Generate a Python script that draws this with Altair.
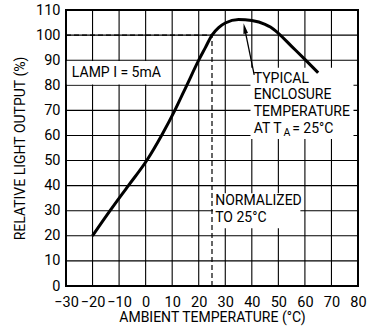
import altair as alt
import pandas as pd

# ---- data ----
curve_x = [-20, -13.4, -6.5, 0.4, 6, 11, 15.5, 20, 22.5, 25, 27.5, 30, 35, 40, 45, 47, 50, 55, 60, 65]
curve_y = [20, 30, 40, 50, 60, 70, 80, 90, 95, 100, 103, 104.8, 106.2, 105.8, 104.3, 103.2, 100.7, 95.5, 90.3, 85]

x_ticks = list(range(-30, 81, 10))
y_ticks = list(range(0, 111, 10))

# dashed reference lines (normalisation point 25 °C / 100 %)
ref_x = 25
ref_y = 100

# annotation text
lamp_text = ["LAMP I = 5mA"]
lamp_pos = [(-27.8, 84.9)]
typ_lines = ["TYPICAL", "ENCLOSURE", "TEMPERATURE"]
typ_x = [40.7, 40.7, 40.7]
typ_y = [82.4, 76.0, 69.3]
at_parts = ["AT T", "= 25°C"]
at_x = [40.7, 55.2]
at_y = [62.7, 62.7]
sub_text = ["A"]
sub_pos = [(51.9, 61.0)]
norm_lines = ["NORMALIZED", "TO 25°C"]
norm_x = [26.2, 26.2]
norm_y = [33.9, 27.0]

# white backgrounds behind annotations (x1, x2, y1, y2)
boxes = [(-29.7, 9.7, 80.3, 89.7), (39.5, 78.3, 58.6, 87.0), (25.35, 58.3, 23.0, 37.0)]

# arrow
arrow_line = [(40.9, 84.1), (37.3, 102.7)]
arrow_head = [(37.3, 102.7, 348.3)]

FONT = "Roboto"

xs = alt.Scale(domain=[-30, 80], nice=False, zero=False)
ys = alt.Scale(domain=[0, 110], nice=False, zero=False)

curve_df = pd.DataFrame({"x": curve_x, "y": curve_y})
box_df = pd.DataFrame(boxes, columns=["x1", "x2", "y1", "y2"])

x_axis = alt.Axis(values=x_ticks, title="AMBIENT TEMPERATURE (°C)",
                  labelPadding=9, titlePadding=2, labelFlush=False,
                  labelOverlap=False, grid=False)
y_axis = alt.Axis(values=y_ticks, title="RELATIVE LIGHT OUTPUT (%)",
                  labelPadding=6, titlePadding=8, labelOverlap=False, grid=False)

base_x = alt.X("x:Q", scale=xs, axis=x_axis)
base_y = alt.Y("y:Q", scale=ys, axis=y_axis)

# grid drawn as rules from the tick lists
gx = alt.Chart(pd.DataFrame({"x": x_ticks[1:-1]})).mark_rule(
    color="black", strokeWidth=1.1
).encode(x=base_x)
gy = alt.Chart(pd.DataFrame({"y": y_ticks[1:-1]})).mark_rule(
    color="black", strokeWidth=1.1
).encode(y=base_y)

curve = alt.Chart(curve_df).mark_line(
    color="black", strokeWidth=3, interpolate="monotone"
).encode(x=base_x, y=base_y)

box = alt.Chart(box_df).mark_rect(color="white", opacity=1).encode(
    x=alt.X("x1:Q", scale=xs, axis=x_axis), x2="x2:Q",
    y=alt.Y("y1:Q", scale=ys, axis=y_axis), y2="y2:Q")

dash_h = alt.Chart(pd.DataFrame({"x": [-30], "x2": [ref_x], "y": [ref_y]})).mark_rule(
    color="black", strokeWidth=1.2, strokeDash=[5, 3]
).encode(x=base_x, x2="x2:Q", y=base_y)

dash_v = alt.Chart(pd.DataFrame({"x": [ref_x], "y": [0], "y2": [ref_y]})).mark_rule(
    color="black", strokeWidth=1.2, strokeDash=[5, 3]
).encode(x=base_x, y=base_y, y2="y2:Q")

arrow_df = pd.DataFrame(arrow_line, columns=["x", "y"])
arrow = alt.Chart(arrow_df).mark_line(color="black", strokeWidth=1.3).encode(
    x=base_x, y=base_y)

head_df = pd.DataFrame(arrow_head, columns=["x", "y", "a"])
head = alt.Chart(head_df).mark_point(
    shape="M0,-1L0.45,1L-0.45,1Z", filled=True, color="black", opacity=1, size=110
).encode(x=base_x, y=base_y, angle=alt.Angle("a:Q", scale=None))

def text_layer(texts, xv, yv, size=14):
    df = pd.DataFrame({"t": texts, "x": xv, "y": yv})
    return alt.Chart(df).mark_text(
        align="left", baseline="middle", font=FONT, fontSize=size, color="black"
    ).encode(x=base_x, y=base_y, text="t:N")

t_lamp = text_layer(lamp_text, [p[0] for p in lamp_pos], [p[1] for p in lamp_pos])
t_typ = text_layer(typ_lines, typ_x, typ_y)
t_at = text_layer(at_parts, at_x, at_y)
t_sub = text_layer(sub_text, [p[0] for p in sub_pos], [p[1] for p in sub_pos], size=10.5)
t_norm = text_layer(norm_lines, norm_x, norm_y)

chart = alt.layer(
    gx, gy, box, dash_h, dash_v, curve, arrow, head, t_lamp, t_typ, t_at, t_sub, t_norm
).properties(
    width=292, height=276,
    autosize=alt.AutoSizeParams(type="none"),
    padding={"left": 66, "top": 10, "right": 10, "bottom": 44},
).configure_axis(
    grid=False, domain=False, ticks=False,
    labelFont=FONT, labelFontSize=14.5, labelColor="black",
    titleFont=FONT, titleFontSize=14, titleFontWeight="normal", titleColor="black",
).configure_view(stroke="black", strokeWidth=2)

chart.save("out.html", embed_options={"renderer": "svg", "actions": False})
